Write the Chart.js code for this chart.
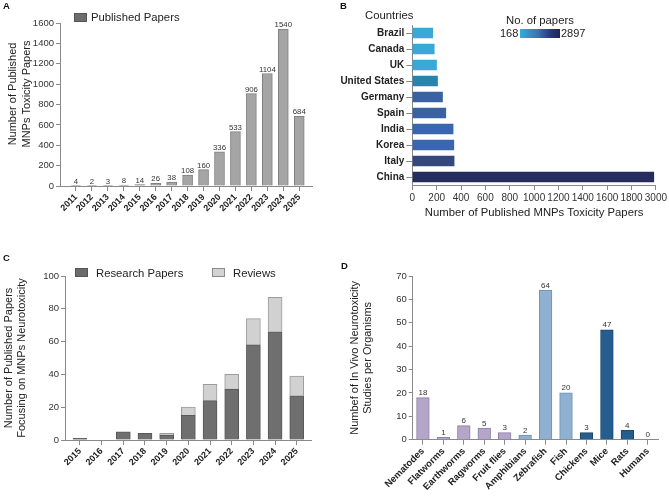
<!DOCTYPE html>
<html><head><meta charset="utf-8">
<script src="https://cdn.jsdelivr.net/npm/chart.js@4.4.1/dist/chart.umd.min.js"></script>
<style>
html,body{margin:0;padding:0;background:#fff;}
body{width:669px;height:497px;position:relative;overflow:hidden;font-family:"Liberation Sans",Arial,Helvetica,sans-serif;color:#222;}
canvas{position:absolute;}
.t{position:absolute;white-space:nowrap;font-size:11.3px;line-height:14px;height:14px;color:#222;}
.lt{position:absolute;font-weight:bold;font-size:9.5px;line-height:10px;color:#111;}
.sw{position:absolute;box-sizing:border-box;}
</style></head><body>
<canvas id="cA" width="330" height="250" style="left:0;top:0;width:330px;height:250px"></canvas>
<canvas id="cB" width="339" height="250" style="left:330px;top:0;width:339px;height:250px"></canvas>
<canvas id="cC" width="330" height="247" style="left:0;top:250px;width:330px;height:247px"></canvas>
<canvas id="cD" width="339" height="247" style="left:330px;top:250px;width:339px;height:247px"></canvas>

<div class="lt" style="left:3px;top:1px">A</div>
<div class="lt" style="left:340px;top:1px">B</div>
<div class="lt" style="left:3px;top:253px">C</div>
<div class="lt" style="left:341px;top:261px">D</div>

<!-- legend A -->
<div class="sw" style="left:74px;top:13px;width:13px;height:9px;background:#6d6d6d;border:1px solid #555"></div>
<div class="t" id="legA" style="left:91px;top:10px"></div>

<!-- B labels -->
<div class="t" id="bCountries" style="left:365px;top:8px"></div>
<div class="t" id="bTitle" style="left:506px;top:12.5px"></div>
<div class="t" id="bMin" style="left:500px;top:26px;font-size:11px"></div>
<div class="sw" id="bBar" style="left:520px;top:28.5px;width:40px;height:9.5px;background:linear-gradient(to right,#36abdc 0%,#3a72b6 45%,#2a3a78 75%,#1f2455 100%)"></div>
<div class="t" id="bMax" style="left:561px;top:26px;font-size:11px"></div>

<!-- legend C -->
<div class="sw" style="left:75px;top:268px;width:13px;height:9px;background:#6b6b6b;border:1px solid #555"></div>
<div class="t" id="legC1" style="left:96px;top:265.5px"></div>
<div class="sw" style="left:212px;top:268px;width:13px;height:9px;background:#d3d3d3;border:1px solid #8a8a8a"></div>
<div class="t" id="legC2" style="left:233px;top:265.5px"></div>

<script>
// ---------------- DATA ----------------
// Panel A
const yearsA = ['2011','2012','2013','2014','2015','2016','2017','2018','2019','2020','2021','2022','2023','2024','2025'];
const papersA = [4, 2, 3, 8, 14, 26, 38, 108, 160, 336, 533, 906, 1104, 1540, 684];
const yTicksA = [0, 200, 400, 600, 800, 1000, 1200, 1400, 1600];
const legendA = 'Published Papers';
const yTitleA = ['Number of Published', 'MNPs Toxicity Papers'];

// Panel B
const countriesB = ['Brazil', 'Canada', 'UK', 'United States', 'Germany', 'Spain', 'India', 'Korea', 'Italy', 'China'];
const papersB = [168, 180, 199, 207, 248, 275, 335, 341, 343, 2897];
const xTicksB = [0, 200, 400, 600, 800, 1000, 1200, 1400, 1600, 1800, 3000];
const colorbarRangeB = [168, 2897];
const xTitleB = 'Number of Published MNPs Toxicity Papers';

// Panel C
const yearsC = ['2015','2016','2017','2018','2019','2020','2021','2022','2023','2024','2025'];
const researchC = [1, 0, 5, 4, 3, 15, 24, 31, 58, 66, 27];
const reviewsC = [0, 0, 0, 0, 1, 5, 10, 9, 16, 21, 12];
const yTicksC = [0, 20, 40, 60, 80, 100];
const seriesNamesC = ['Research Papers', 'Reviews'];
const yTitleC = ['Number of Published Papers', 'Focusing on MNPs Neurotoxicity'];

// Panel D
const organismsD = ['Nematodes', 'Flatworms', 'Earthworms', 'Ragworms', 'Fruit flies', 'Amphibians', 'Zebrafish', 'Fish', 'Chickens', 'Mice', 'Rats', 'Humans'];
const studiesD = [18, 1, 6, 5, 3, 2, 64, 20, 3, 47, 4, 0];
const yTicksD = [0, 10, 20, 30, 40, 50, 60, 70];
const yTitleD = ['Numbef of In Vivo Neurotoxicity', 'Studies per Organisms'];

// ---------------- STYLE ----------------
const FONT = '"Liberation Sans", Arial, Helvetica, sans-serif';
Chart.defaults.font.family = FONT;
Chart.defaults.color = '#333';
const AX = '#8a8a8a';
const colorsB = ['#3aa8d6', '#3aa8d6', '#3aa8d6', '#2a83ab', '#3a62a2', '#3a62a2', '#3a66b0', '#3a66b0', '#36477c', '#252c5e'];
const LAV = '#b4a5c9', LAVB = '#8f80a9';
const LBL = '#8fb0d1', LBLB = '#6d91b6';
const DBL = '#255d8e', DBLB = '#1b4670';
const colorsD = [LAV, LAV, LAV, LAV, LAV, LBL, LBL, LBL, DBL, DBL, DBL, DBL];
const bordersD = [LAVB, LAVB, LAVB, LAVB, LAVB, LBLB, LBLB, LBLB, DBLB, DBLB, DBLB, DBLB];

document.getElementById('legA').textContent = legendA;
document.getElementById('bCountries').textContent = 'Countries';
document.getElementById('bTitle').textContent = 'No. of papers';
document.getElementById('bMin').textContent = String(colorbarRangeB[0]);
document.getElementById('bMax').textContent = String(colorbarRangeB[1]);
document.getElementById('legC1').textContent = seriesNamesC[0];
document.getElementById('legC2').textContent = seriesNamesC[1];

// value labels plugin
const valueLabels = {
  id: 'valueLabels',
  afterDatasetsDraw(chart, args, opts) {
    if (!opts || !opts.show) return;
    const ctx = chart.ctx;
    chart.data.datasets.forEach((ds, di) => {
      const meta = chart.getDatasetMeta(di);
      meta.data.forEach((el, i) => {
        ctx.save();
        ctx.font = opts.size + 'px ' + FONT;
        ctx.fillStyle = '#333';
        ctx.textAlign = 'center';
        ctx.textBaseline = 'alphabetic';
        ctx.fillText(String(ds.data[i]), el.x, el.y - opts.gap);
        ctx.restore();
      });
    });
  }
};

// rotated side title drawn on canvas at a given spot
const sideTitle = {
  id: 'sideTitle',
  afterDraw(chart, args, opts) {
    if (!opts || !opts.lines) return;
    const ctx = chart.ctx;
    ctx.save();
    ctx.font = opts.size + 'px ' + FONT;
    ctx.fillStyle = '#222';
    ctx.textAlign = 'center';
    ctx.textBaseline = 'middle';
    opts.lines.forEach((line, i) => {
      ctx.save();
      ctx.translate(opts.x + i * opts.lh, opts.y);
      ctx.rotate(-Math.PI / 2);
      ctx.fillText(line, 0, 0);
      ctx.restore();
    });
    ctx.restore();
  }
};

// broken linear scale for panel B (1800 -> 3000 compressed into one step)
class BrokenLinearScale extends Chart.LinearScale {
  buildTicks() { return xTicksB.map(v => ({ value: v })); }
  getPixelForValue(v) {
    const brk = xTicksB[xTicksB.length - 2];
    const last = xTicksB[xTicksB.length - 1];
    const step = xTicksB[1] - xTicksB[0];
    const m = v <= brk ? v : brk + (v - brk) * step / (last - brk);
    return super.getPixelForValue(m);
  }
}
BrokenLinearScale.id = 'brokenLinear';
BrokenLinearScale.defaults = {};
Chart.register(BrokenLinearScale);

function gridCfg(len) {
  return { display: true, drawOnChartArea: false, drawTicks: true, tickLength: len, color: AX, tickColor: AX, lineWidth: 1, offset: false };
}
function yLinear(ticksArr, width, title, titlePad, lh) {
  return {
    type: 'linear', min: ticksArr[0], max: ticksArr[ticksArr.length - 1],
    afterBuildTicks: s => { s.ticks = ticksArr.map(v => ({ value: v })); },
    afterFit: s => { s.width = width; },
    border: { color: AX, width: 1 },
    grid: gridCfg(4),
    ticks: { font: { size: 9.5 }, color: '#333', padding: 2, callback: v => String(v) },
    title: { display: !!title, text: title || '', font: { size: 11 }, color: '#222', padding: { top: titlePad, bottom: 0 }, lineHeight: lh }
  };
}
function xYears(years, min, max, height) {
  return {
    type: 'linear', min: min, max: max, offset: false, stacked: true,
    afterBuildTicks: s => { s.ticks = years.map(y => ({ value: +y })); },
    afterFit: s => { s.height = height; },
    border: { color: AX, width: 1 },
    grid: gridCfg(5),
    ticks: { autoSkip: false, minRotation: 45, maxRotation: 45, font: { size: 9, weight: 'bold' }, color: '#222', padding: 1, callback: v => String(v) }
  };
}

// ---------------- PANEL A ----------------
new Chart(document.getElementById('cA'), {
  type: 'bar',
  data: { labels: yearsA, datasets: [{ label: legendA, data: papersA, backgroundColor: '#a5a5a5', borderColor: '#7f7f7f', borderWidth: 1, barThickness: 10 }] },
  options: {
    responsive: false, animation: false,
    layout: { padding: { left: 0, right: 18, top: 23, bottom: 0 } },
    plugins: {
      legend: { display: false }, tooltip: { enabled: false },
      valueLabels: { show: true, size: 7.8, gap: 2 },
      sideTitle: { lines: yTitleA, x: 13, y: 94, lh: 13.5, size: 11 }
    },
    scales: {
      x: xYears(yearsA, 2010, 2025.8, 64),
      y: yLinear(yTicksA, 60, null, 0, 1.2)
    }
  },
  plugins: [valueLabels, sideTitle]
});

// ---------------- PANEL B ----------------
new Chart(document.getElementById('cB'), {
  type: 'bar',
  data: { labels: countriesB, datasets: [{ data: papersB, backgroundColor: colorsB, borderWidth: 0, barThickness: 10 }] },
  options: {
    indexAxis: 'y',
    responsive: false, animation: false,
    layout: { padding: { left: 0, right: 11.3, top: 25, bottom: 0 } },
    plugins: { legend: { display: false }, tooltip: { enabled: false } },
    scales: {
      x: {
        type: 'brokenLinear', min: 0, max: 2000,
        afterFit: s => { s.height = 65; },
        border: { color: AX, width: 1 },
        grid: gridCfg(5),
        ticks: { font: { size: 10 }, color: '#333', padding: 2, autoSkip: false, maxRotation: 0, callback: v => String(v) },
        title: { display: true, text: xTitleB, font: { size: 11.3 }, color: '#222', padding: { top: 0, bottom: 30 } }
      },
      y: {
        type: 'category', offset: true,
        afterFit: s => { s.width = 82.3; },
        border: { color: AX, width: 1 },
        grid: gridCfg(6),
        ticks: { font: { size: 10, weight: 'bold' }, color: '#222', padding: 2, autoSkip: false }
      }
    }
  }
});

// ---------------- PANEL C ----------------
new Chart(document.getElementById('cC'), {
  type: 'bar',
  data: { labels: yearsC, datasets: [
    { label: seriesNamesC[0], data: researchC, backgroundColor: '#6f6f6f', borderColor: '#585858', borderWidth: 1, barThickness: 14 },
    { label: seriesNamesC[1], data: reviewsC, backgroundColor: '#d1d1d1', borderColor: '#9b9b9b', borderWidth: 1, barThickness: 14 }
  ] },
  options: {
    responsive: false, animation: false,
    layout: { padding: { left: 0, right: 18.3, top: 26, bottom: 0 } },
    plugins: { legend: { display: false }, tooltip: { enabled: false } },
    scales: {
      x: xYears(yearsC, 2014.31, 2025.69, 57),
      y: Object.assign(yLinear(yTicksC, 65, yTitleC, 2.5, 15 / 11), { stacked: true })
    }
  }
});

// ---------------- PANEL D ----------------
new Chart(document.getElementById('cD'), {
  type: 'bar',
  data: { labels: organismsD, datasets: [{ data: studiesD, backgroundColor: colorsD, borderColor: bordersD, borderWidth: 1, barThickness: 12.7 }] },
  options: {
    responsive: false, animation: false,
    layout: { padding: { left: 0, right: 11, top: 26, bottom: 0 } },
    plugins: { legend: { display: false }, tooltip: { enabled: false }, valueLabels: { show: true, size: 8, gap: 2.5 } },
    scales: {
      x: {
        type: 'category', offset: true,
        afterFit: s => { s.height = 57.3; },
        border: { color: AX, width: 1 },
        grid: gridCfg(5),
        ticks: { autoSkip: false, minRotation: 45, maxRotation: 45, font: { size: 9.5, weight: 'bold' }, color: '#222', padding: 1 }
      },
      y: yLinear(yTicksD, 82.7, yTitleD, 18.4, 1.2)
    }
  },
  plugins: [valueLabels]
});
</script>
</body></html>
